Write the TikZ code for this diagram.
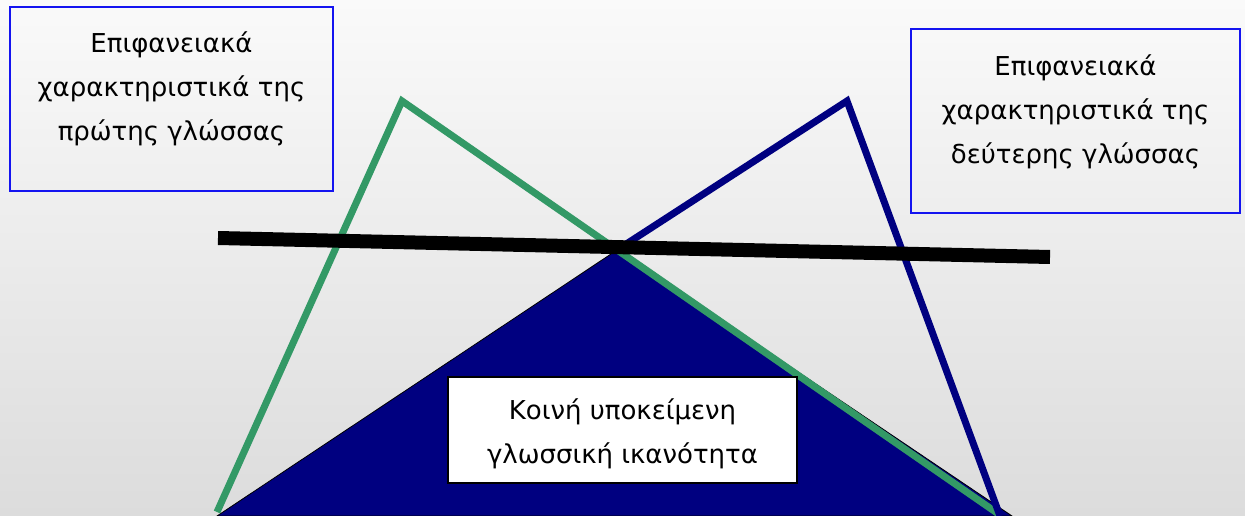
\documentclass[tikz,border=0pt]{standalone}
\usepackage{fontspec}
\setmainfont{DejaVu Sans}
\definecolor{bgtop}{RGB}{250,250,250}
\definecolor{bgbot}{RGB}{220,220,220}
\definecolor{grn}{RGB}{51,153,102}
\definecolor{nvy}{RGB}{0,0,128}
\definecolor{bbox}{RGB}{20,20,240}
\tikzset{
  topbox/.style={draw=bbox, line width=1.5pt, inner sep=0pt},
  midbox/.style={draw=black, fill=white, line width=2pt, inner sep=0pt},
  lbl/.style={align=center, inner sep=0pt, font=\fontsize{26}{44}\selectfont},
}
\begin{document}
\begin{tikzpicture}[x=1pt,y=-1pt]
\useasboundingbox (0,0) rectangle (1245,516);
\shade[top color=bgtop, bottom color=bgbot] (0,0) rectangle (1245,516);
% coordinates
\coordinate (tl) at (217,516);
\coordinate (ta) at (617,250);
\coordinate (tr) at (1012,516);
\coordinate (g1) at (217,512);
\coordinate (g2) at (402,101);
\coordinate (g3) at (1000,515);
\coordinate (b2) at (847,101);
\coordinate (b3) at (1000,516);
\coordinate (k1) at (218,238);
\coordinate (k2) at (1050,257);
% shared base triangle
\fill[nvy, draw=black, line width=0.8pt] (tl) -- (ta) -- (tr) -- cycle;
% first language (green)
\draw[grn, line width=7pt, line join=miter] (g1) -- (g2) -- (g3);
% second language (navy)
\draw[nvy, line width=7pt, line join=miter] (ta) -- (b2) -- (b3);
% surface line
\draw[black, line width=14pt] (k1) -- (k2);
% boxes
\node[topbox, minimum width=323pt, minimum height=184pt] (L) at (171.5,99) {};
\node[lbl] (Lt) at (171.5,89) {Επιφανειακά\\χαρακτηριστικά της\\πρώτης γλώσσας};
\node[topbox, minimum width=329pt, minimum height=184pt] (R) at (1075.5,121) {};
\node[lbl] (Rt) at (1075.5,112) {Επιφανειακά\\χαρακτηριστικά της\\δεύτερης γλώσσας};
\node[midbox, minimum width=349pt, minimum height=106pt] (C) at (622.5,430) {};
\node[lbl] (Ct) at (622.5,434) {Κοινή υποκείμενη\\γλωσσική ικανότητα};
\end{tikzpicture}
\end{document}
